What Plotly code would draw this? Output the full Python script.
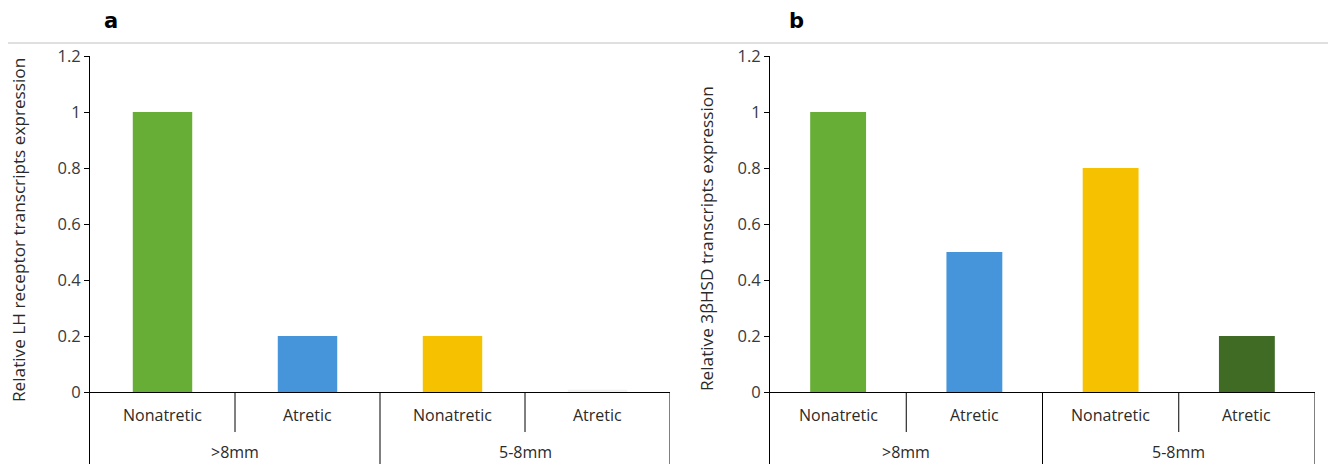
import plotly.graph_objects as go

# ---------------- data ----------------
groups = [">8mm", ">8mm", "5-8mm", "5-8mm"]
subcats = ["Nonatretic", "Atretic", "Nonatretic", "Atretic"]
group_labels = [">8mm", "5-8mm"]
lh_values = [1.0, 0.2, 0.2, 0.008]
hsd_values = [1.0, 0.5, 0.8, 0.2]
lh_colors = ["#67AE36", "#4694DA", "#F6C200", "#F2F2F2"]
hsd_colors = ["#67AE36", "#4694DA", "#F6C200", "#3F6B24"]
y_ticks = [0, 0.2, 0.4, 0.6, 0.8, 1.0, 1.2]
y_ticktext = ["0", "0.2", "0.4", "0.6", "0.8", "1", "1.2"]
ytitle_a = "Relative LH receptor transcripts expression"
ytitle_b = "Relative 3βHSD transcripts expression"

FONT = "Open Sans"
TXT = "#2a2a2a"
W, H = 1336, 464
OFF = 8  # page body margin
YMIN, YMAX = -0.257, 1.2
xpos = list(range(len(subcats)))


def fx(px):
    return (px - OFF) / W


def fy(py):
    return 1 - (py - OFF) / H


fig = go.Figure()
fig.add_trace(go.Bar(x=xpos, y=lh_values, marker=dict(color=lh_colors, line=dict(width=0)),
                     width=0.41, xaxis="x", yaxis="y", showlegend=False))
fig.add_trace(go.Bar(x=xpos, y=hsd_values, marker=dict(color=hsd_colors, line=dict(width=0)),
                     width=0.41, xaxis="x2", yaxis="y2", showlegend=False))

ydom = [fy(464), fy(56)]
xdom1 = [fx(90), fx(670)]
xdom2 = [fx(770), fx(1315)]

xax = dict(range=[-0.5, 3.5], showticklabels=False, showgrid=False, zeroline=False,
           showline=False, fixedrange=True, automargin=False)
yax = dict(range=[YMIN, YMAX], tickvals=y_ticks, ticktext=y_ticktext, showgrid=False,
           zeroline=True, zerolinecolor="black", zerolinewidth=1,
           showline=True, linecolor="black", linewidth=1, automargin=False,
           ticks="outside", ticklen=5, tickcolor="black",
           tickfont=dict(family=FONT, size=16.5, color="#3a3a3a"))

fig.update_layout(
    width=W, height=H,
    margin=dict(l=0, r=0, t=0, b=0, pad=0),
    paper_bgcolor="white", plot_bgcolor="white",
    xaxis=dict(domain=xdom1, anchor="y", **xax),
    yaxis=dict(domain=ydom, anchor="x", **yax),
    xaxis2=dict(domain=xdom2, anchor="y2", **xax),
    yaxis2=dict(domain=ydom, anchor="x2", **yax),
    bargap=0.59,
)

shapes = []
annotations = []
y_inner = -(432 - 392) / 280
y_sub = -(415 - 392) / 280
y_grp = -(452 - 392) / 280
for xa, ya in (("x", "y"), ("x2", "y2")):
    for xv in (0.5, 2.5):
        shapes.append(dict(type="line", xref=xa, yref=ya, x0=xv, x1=xv, y0=0, y1=y_inner,
                           line=dict(color="black", width=1)))
    for xv in (1.5, 3.5):
        shapes.append(dict(type="line", xref=xa, yref=ya, x0=xv, x1=xv, y0=0, y1=YMIN,
                           line=dict(color="black", width=1)))
    for i, s in enumerate(subcats):
        annotations.append(dict(x=i, y=y_sub, xref=xa, yref=ya, text=s, showarrow=False,
                                xanchor="center", yanchor="middle",
                                font=dict(family=FONT, size=16, color=TXT)))
    for j, g in enumerate(group_labels):
        annotations.append(dict(x=0.5 + 2 * j, y=y_grp, xref=xa, yref=ya, text=g, showarrow=False,
                                xanchor="center", yanchor="middle",
                                font=dict(family=FONT, size=16, color=TXT)))

# y titles
annotations.append(dict(x=fx(18), y=fy(230), xref="paper", yref="paper", text=ytitle_a,
                        textangle=-90, showarrow=False, xanchor="center", yanchor="middle",
                        font=dict(family=FONT, size=17.2, color=TXT)))
annotations.append(dict(x=fx(707), y=fy(239), xref="paper", yref="paper", text=ytitle_b,
                        textangle=-90, showarrow=False, xanchor="center", yanchor="middle",
                        font=dict(family=FONT, size=17.2, color=TXT)))
# panel letters
annotations.append(dict(x=fx(111), y=fy(21), xref="paper", yref="paper", text="<b>a</b>",
                        showarrow=False, xanchor="center", yanchor="middle",
                        font=dict(family="DejaVu Sans", size=21, color="black")))
annotations.append(dict(x=fx(796), y=fy(21), xref="paper", yref="paper", text="<b>b</b>",
                        showarrow=False, xanchor="center", yanchor="middle",
                        font=dict(family="DejaVu Sans", size=21, color="black")))
# top separator line
shapes.append(dict(type="line", xref="paper", yref="paper", x0=fx(8), x1=1, y0=fy(43), y1=fy(43),
                   line=dict(color="#C0C0C0", width=1)))

fig.update_layout(shapes=shapes, annotations=annotations)
fig.write_html("out.html")
